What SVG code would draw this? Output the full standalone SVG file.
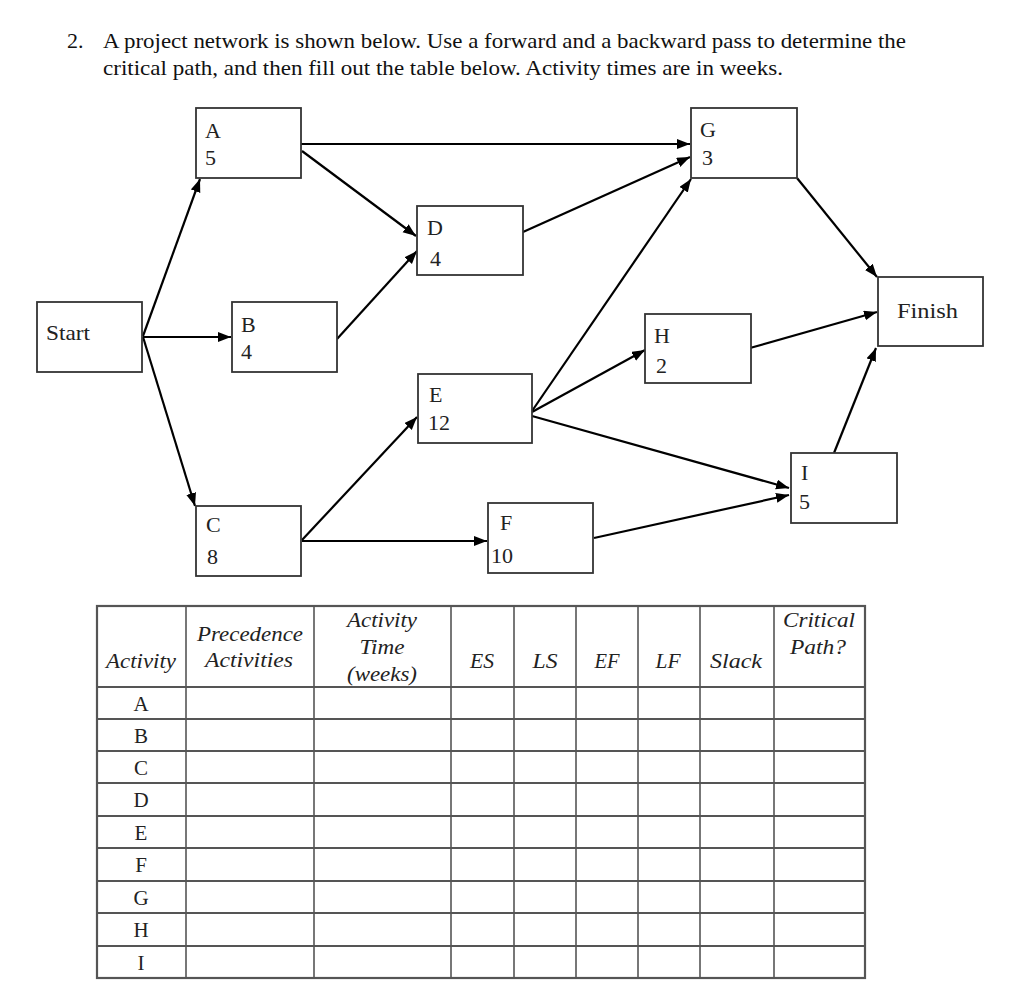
<svg xmlns="http://www.w3.org/2000/svg" width="1024" height="994" viewBox="0 0 1024 994">
<defs>
<marker id="ah" markerUnits="userSpaceOnUse" markerWidth="15" markerHeight="11" refX="13" refY="5" orient="auto">
<path d="M0,0 L13,5 L0,10 z" fill="#000"/>
</marker>
<style>
.box{fill:#fff;stroke:#333;stroke-width:1.8}
.lbl{font-family:"Liberation Serif","Times New Roman",serif;font-size:22px;fill:#222}
.edge{stroke:#000;stroke-width:2.2;fill:none;marker-end:url(#ah)}
.title{font-family:"Liberation Serif","Times New Roman",serif;font-size:22px;fill:#111}
.hd{font-family:"Liberation Serif","Times New Roman",serif;font-size:21px;font-style:italic;fill:#222;text-anchor:middle}
.cell{font-family:"Liberation Serif","Times New Roman",serif;font-size:21px;fill:#222;text-anchor:middle}
.hl{stroke:#555;stroke-width:2.2}
.vl{stroke:#555;stroke-width:1.6}
</style>
</defs>
<rect width="1024" height="994" fill="#fff"/>

<g id="title">
<text class="title" x="67" y="48">2.</text>
<text class="title" x="103" y="48" textLength="803" lengthAdjust="spacingAndGlyphs">A project network is shown below. Use a forward and a backward pass to determine the</text>
<text class="title" x="103" y="75" textLength="680" lengthAdjust="spacingAndGlyphs">critical path, and then fill out the table below.  Activity times are in weeks.</text>
</g>

<g id="connectors">
<path class="edge" d="M143,336 L200,179"/>
<path class="edge" d="M143,337 L231,337"/>
<path class="edge" d="M143,337 L195,506"/>
<path class="edge" d="M301,144 L690,144"/>
<path class="edge" d="M302,151 L416,236"/>
<path class="edge" d="M337,339 L417,251"/>
<path class="edge" d="M523,232 L690,157"/>
<path class="edge" d="M532,411 L691,179"/>
<path class="edge" d="M532,412 L645,350"/>
<path class="edge" d="M532,416 L789,488"/>
<path class="edge" d="M302,540 L417,417"/>
<path class="edge" d="M302,541 L487,541"/>
<path class="edge" d="M797,178 L877,277"/>
<path class="edge" d="M750,348 L877,312"/>
<path class="edge" d="M834,453 L876,348"/>
<path class="edge" d="M594,538 L789,495"/>
</g>

<g id="node-start"><rect class="box" x="37" y="302" width="105" height="70"/><text class="lbl" x="46" y="340" textLength="44" lengthAdjust="spacingAndGlyphs">Start</text></g>
<g id="node-A"><rect class="box" x="196" y="108" width="105" height="70"/><text class="lbl" x="205" y="138">A</text><text class="lbl" x="205" y="165">5</text></g>
<g id="node-B"><rect class="box" x="232" y="302" width="105" height="70"/><text class="lbl" x="241" y="332">B</text><text class="lbl" x="241" y="359">4</text></g>
<g id="node-C"><rect class="box" x="196" y="506" width="105" height="70"/><text class="lbl" x="206" y="532">C</text><text class="lbl" x="207" y="564">8</text></g>
<g id="node-D"><rect class="box" x="417" y="206" width="106" height="69"/><text class="lbl" x="427" y="235">D</text><text class="lbl" x="430" y="266">4</text></g>
<g id="node-E"><rect class="box" x="418" y="374" width="114" height="69"/><text class="lbl" x="429" y="402">E</text><text class="lbl" x="428" y="430">12</text></g>
<g id="node-F"><rect class="box" x="488" y="503" width="105" height="70"/><text class="lbl" x="500" y="530">F</text><text class="lbl" x="491" y="563">10</text></g>
<g id="node-G"><rect class="box" x="691" y="108" width="106" height="70"/><text class="lbl" x="700" y="137">G</text><text class="lbl" x="702" y="165">3</text></g>
<g id="node-H"><rect class="box" x="645" y="314" width="106" height="69"/><text class="lbl" x="654" y="343">H</text><text class="lbl" x="656" y="373">2</text></g>
<g id="node-I"><rect class="box" x="791" y="453" width="106" height="70"/><text class="lbl" x="801" y="480">I</text><text class="lbl" x="799" y="509">5</text></g>
<g id="node-finish"><rect class="box" x="878" y="277" width="105" height="69"/><text class="lbl" x="897" y="318" textLength="61" lengthAdjust="spacingAndGlyphs">Finish</text></g>

<g id="table">
<rect x="97" y="606" width="768" height="372" fill="#fff" stroke="#555" stroke-width="2.2"/>
<line class="hl" x1="97" y1="687" x2="865" y2="687"/>
<line class="hl" x1="97" y1="719" x2="865" y2="719"/>
<line class="hl" x1="97" y1="751" x2="865" y2="751"/>
<line class="hl" x1="97" y1="783" x2="865" y2="783"/>
<line class="hl" x1="97" y1="816" x2="865" y2="816"/>
<line class="hl" x1="97" y1="848" x2="865" y2="848"/>
<line class="hl" x1="97" y1="881" x2="865" y2="881"/>
<line class="hl" x1="97" y1="913" x2="865" y2="913"/>
<line class="hl" x1="97" y1="946" x2="865" y2="946"/>
<line class="vl" x1="186" y1="606" x2="186" y2="978"/>
<line class="vl" x1="314" y1="606" x2="314" y2="978"/>
<line class="vl" x1="451" y1="606" x2="451" y2="978"/>
<line class="vl" x1="514" y1="606" x2="514" y2="978"/>
<line class="vl" x1="576" y1="606" x2="576" y2="978"/>
<line class="vl" x1="638" y1="606" x2="638" y2="978"/>
<line class="vl" x1="700" y1="606" x2="700" y2="978"/>
<line class="vl" x1="774" y1="606" x2="774" y2="978"/>

<text class="hd" x="141" y="668" textLength="70" lengthAdjust="spacingAndGlyphs">Activity</text>
<text class="hd" x="250" y="641" textLength="106" lengthAdjust="spacingAndGlyphs">Precedence</text>
<text class="hd" x="249" y="667" textLength="88" lengthAdjust="spacingAndGlyphs">Activities</text>
<text class="hd" x="382" y="627" textLength="70" lengthAdjust="spacingAndGlyphs">Activity</text>
<text class="hd" x="382" y="654" textLength="45" lengthAdjust="spacingAndGlyphs">Time</text>
<text class="hd" x="382" y="681" textLength="70" lengthAdjust="spacingAndGlyphs">(weeks)</text>
<text class="hd" x="482" y="668" textLength="24" lengthAdjust="spacingAndGlyphs">ES</text>
<text class="hd" x="545" y="668" textLength="25" lengthAdjust="spacingAndGlyphs">LS</text>
<text class="hd" x="607" y="668" textLength="25" lengthAdjust="spacingAndGlyphs">EF</text>
<text class="hd" x="668" y="668" textLength="25" lengthAdjust="spacingAndGlyphs">LF</text>
<text class="hd" x="736" y="668" textLength="52" lengthAdjust="spacingAndGlyphs">Slack</text>
<text class="hd" x="819" y="627" textLength="72" lengthAdjust="spacingAndGlyphs">Critical</text>
<text class="hd" x="818" y="654" textLength="56" lengthAdjust="spacingAndGlyphs">Path?</text>

<text class="cell" x="141" y="711">A</text>
<text class="cell" x="141" y="743">B</text>
<text class="cell" x="141" y="775">C</text>
<text class="cell" x="141" y="807">D</text>
<text class="cell" x="141" y="840">E</text>
<text class="cell" x="141" y="872">F</text>
<text class="cell" x="141" y="905">G</text>
<text class="cell" x="141" y="937">H</text>
<text class="cell" x="141" y="970">I</text>
</g>
</svg>
